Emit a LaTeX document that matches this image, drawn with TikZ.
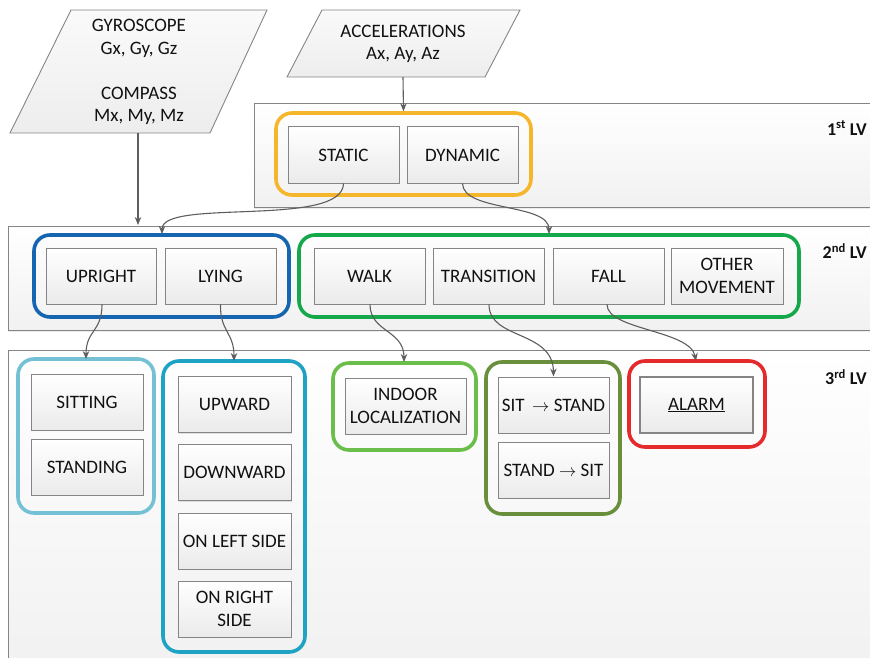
\documentclass[tikz,border=0pt]{standalone}
\usepackage{fontspec}
\setmainfont{Carlito}
\usetikzlibrary{arrows.meta,shadows}

\definecolor{grpOrange}{HTML}{F6B62B}
\definecolor{grpBlue}{HTML}{1565B0}
\definecolor{grpGreen}{HTML}{14A84A}
\definecolor{grpSky}{HTML}{74C1D6}
\definecolor{grpTeal}{HTML}{1FA3C4}
\definecolor{grpLime}{HTML}{6CBE4B}
\definecolor{grpOlive}{HTML}{6A8F3C}
\definecolor{grpRed}{HTML}{E52A2E}
\definecolor{edgeGray}{HTML}{858585}
\definecolor{wireGray}{HTML}{5E5E5E}
\definecolor{inkDark}{HTML}{111111}

\tikzset{
  every node/.style={text=inkDark},
  panel/.style={draw=edgeGray, line width=0.8pt, top color=white, bottom color=gray!11,
    drop shadow={shadow xshift=0pt, shadow yshift=-1.5pt, opacity=0.15}},
  datashape/.style={draw=edgeGray, line width=0.9pt, top color=gray!4, bottom color=gray!14},
  grp/.style={rectangle, line width=3.6pt, rounded corners=16pt, fill=none},
  item/.style={rectangle, draw=edgeGray, line width=1pt, top color=white, bottom color=gray!16,
    minimum width=111pt, minimum height=56pt, inner sep=0pt, align=center,
    font=\fontsize{19}{22.5}\selectfont,
    drop shadow={shadow xshift=1.2pt, shadow yshift=-1.2pt, opacity=0.22}},
  lvl/.style={anchor=east, inner sep=0pt, font=\fontsize{18}{20}\selectfont\bfseries},
  wire/.style={draw=wireGray, line width=1.1pt, -{Stealth[length=8pt,width=6.5pt]}},
  datatext/.style={align=center, inner sep=0pt, font=\fontsize{19}{22.5}\selectfont}
}

\begin{document}
\begin{tikzpicture}[x=1pt,y=-1pt]
\useasboundingbox (0,0) rectangle (870,658);

% level panels
\path[panel] (254,103) rectangle (876,207);
\path[panel] (8,226) rectangle (876,330);
\path[panel] (8,350) rectangle (876,672);

% sensor inputs
\path[datashape] (71,10) -- (267,10) -- (210,133) -- (10,133) -- cycle;
\node[datatext] (gyro) at (139,72) {GYROSCOPE\\Gx, Gy, Gz\\[22.5pt]COMPASS\\Mx, My, Mz};
\coordinate (gyrobot) at (138,133);

\path[datashape] (322,10) -- (520,10) -- (485,77) -- (287,77) -- cycle;
\node[datatext] (acc) at (403,44) {ACCELERATIONS\\Ax, Ay, Az};
\coordinate (accbot) at (403,77);

% level labels
\node[lvl] (lv1) at (867,128) {1\textsuperscript{st} LV};
\node[lvl] (lv2) at (867,251) {2\textsuperscript{nd} LV};
\node[lvl] (lv3) at (867,377) {3\textsuperscript{rd} LV};

% groups
\node[grp, draw=grpOrange, minimum width=255pt, minimum height=82pt] (g1) at (403.5,154) {};
\node[grp, draw=grpBlue, minimum width=255pt, minimum height=82pt] (g2a) at (161.5,276) {};
\node[grp, draw=grpGreen, minimum width=500pt, minimum height=82pt] (g2b) at (549,276) {};
\node[grp, draw=grpSky, minimum width=136pt, minimum height=154pt] (g3a) at (86,436) {};
\node[grp, draw=grpTeal, minimum width=142pt, minimum height=291pt] (g3b) at (234,506.5) {};
\node[grp, draw=grpLime, minimum width=143pt, minimum height=87pt] (g3c) at (404.5,406.5) {};
\node[grp, draw=grpOlive, minimum width=134pt, minimum height=152pt] (g3d) at (553,438) {};
\node[grp, draw=grpRed, minimum width=136pt, minimum height=86pt] (g3e) at (697,404) {};

% level 1
\node[item] (static) at (343.5,155) {STATIC};
\node[item] (dynamic) at (462.5,155) {DYNAMIC};

% level 2
\node[item, minimum width=110pt] (upright) at (101,276) {UPRIGHT};
\node[item] (lying) at (220.5,276) {LYING};
\node[item] (walk) at (369.5,276) {WALK};
\node[item] (transition) at (488.5,276) {TRANSITION};
\node[item] (fall) at (608.5,276) {FALL};
\node[item, minimum width=112pt] (other) at (727,276) {OTHER\\MOVEMENT};

% level 3
\node[item, minimum width=112pt] (sitting) at (87,402) {SITTING};
\node[item, minimum width=112pt] (standing) at (87,467) {STANDING};
\node[item, minimum width=113pt] (upward) at (234.5,404.5) {UPWARD};
\node[item, minimum width=113pt] (downward) at (234.5,472.5) {DOWNWARD};
\node[item, minimum width=113pt] (leftside) at (234.5,541) {ON LEFT SIDE};
\node[item, minimum width=113pt] (rightside) at (234.5,609) {ON RIGHT\\SIDE};
\node[item, minimum width=121pt] (indoor) at (405.5,406) {INDOOR\\LOCALIZATION};
\node[item] (sitstand) at (553.5,405) {SIT \,$\rightarrow$ STAND};
\node[item] (standsit) at (553.5,470) {STAND $\rightarrow$ SIT};
\node[item, minimum width=113pt, line width=1.6pt] (alarm) at (696.5,405) {\underline{ALARM}};

% connectors
\draw[wire] (gyrobot) -- (138,225);
\draw[wire] (accbot) -- (g1.north);
\draw[wire] (static.south) .. controls (343,228) and (162,198) .. (162,234);
\draw[wire] (dynamic.south) .. controls (463,212) and (549,203) .. (549,234);
\draw[wire] ([xshift=1pt]upright.south) .. controls (102,332) and (86,330) .. (86,359);
\draw[wire] (lying.south) .. controls (220,332) and (234,332) .. (234,361);
\draw[wire] ([xshift=0.5pt]walk.south) .. controls (370,332) and (404,330) .. (404,362);
\draw[wire] ([xshift=0.5pt]transition.south) .. controls (489,340) and (553,330) .. (sitstand.north);
\draw[wire] ([xshift=-1.5pt]fall.south) .. controls (607,330) and (690,330) .. (696,361);
\end{tikzpicture}
\end{document}
